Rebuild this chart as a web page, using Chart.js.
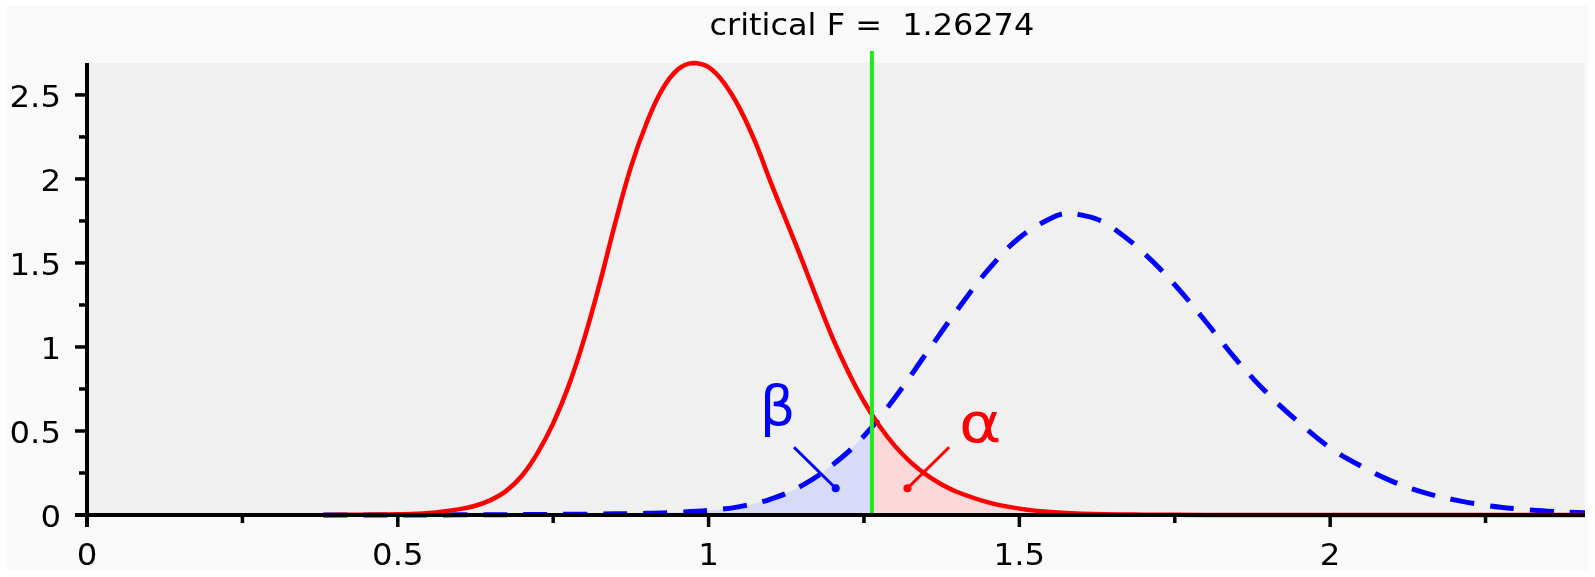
<!DOCTYPE html>
<html><head><meta charset="utf-8">
<script src="https://cdn.jsdelivr.net/npm/chart.js@4.4.1/dist/chart.umd.min.js"></script>
<style>html,body{margin:0;padding:0;background:#fff;overflow:hidden}canvas{display:block}</style>
</head><body>
<canvas id="c" width="1595" height="577"></canvas>
<script>
// ---- data ----
const criticalF = 1.26274;
const titleText = 'critical F =  1.26274';
const xMajorTicks = [0, 0.5, 1, 1.5, 2];
const xMinorTicks = [0.25, 0.75, 1.25, 1.75, 2.25];
const yMajorTicks = [0, 0.5, 1, 1.5, 2, 2.5];
const yMinorTicks = [0.25, 0.75, 1.25, 1.75, 2.25];
const xTickLabels = ['0', '0.5', '1', '1.5', '2'];
const yTickLabels = ['0', '0.5', '1', '1.5', '2', '2.5'];

// null distribution (red, solid)
const nullX = [0.38, 0.45, 0.50, 0.55, 0.60, 0.625, 0.65, 0.675, 0.70, 0.725, 0.75, 0.775, 0.80, 0.825, 0.85, 0.875, 0.90, 0.925, 0.95, 0.975, 1.00, 1.025, 1.05, 1.075, 1.10, 1.125, 1.15, 1.175, 1.20, 1.225, 1.25, 1.275, 1.30, 1.325, 1.35, 1.375, 1.40, 1.45, 1.50, 1.55, 1.60, 1.70, 1.80, 2.00, 2.41];
const nullY = [0, 0.002, 0.004, 0.012, 0.035, 0.055, 0.09, 0.145, 0.235, 0.37, 0.545, 0.77, 1.05, 1.38, 1.74, 2.07, 2.33, 2.53, 2.65, 2.69, 2.665, 2.57, 2.42, 2.22, 1.98, 1.75, 1.52, 1.28, 1.05, 0.85, 0.675, 0.53, 0.41, 0.315, 0.24, 0.182, 0.137, 0.075, 0.038, 0.018, 0.008, 0.002, 0.0005, 0, 0];

// alternative distribution (blue, dashed)
const altX = [0.38, 0.60, 0.80, 0.90, 0.95, 1.00, 1.05, 1.10, 1.15, 1.20, 1.25, 1.30, 1.35, 1.40, 1.45, 1.50, 1.55, 1.575, 1.60, 1.625, 1.65, 1.70, 1.75, 1.80, 1.85, 1.90, 1.95, 2.00, 2.05, 2.10, 2.15, 2.20, 2.25, 2.30, 2.35, 2.41];
const altY = [0, 0.001, 0.005, 0.01, 0.016, 0.027, 0.05, 0.095, 0.175, 0.30, 0.47, 0.70, 0.96, 1.22, 1.46, 1.65, 1.765, 1.795, 1.785, 1.76, 1.71, 1.56, 1.37, 1.15, 0.92, 0.72, 0.55, 0.40, 0.29, 0.20, 0.135, 0.09, 0.058, 0.037, 0.023, 0.013];

const xRange = [0, 2.41];
const yRange = [0, 2.69];

// ---- styling ----
const FONT = "'DejaVu Sans', 'Liberation Sans', sans-serif";
const RED = '#ff0000', BLUE = '#0000ff', GREEN = 'rgb(30,235,30)';
const RED_FILL = 'rgb(251,217,219)', BLUE_FILL = 'rgb(216,219,248)';

function sideFill(color, side) {
  return (ctx) => {
    const chart = ctx.chart, ca = chart.chartArea;
    if (!ca) return color;
    const px = chart.scales.x.getPixelForValue(criticalF);
    const g = chart.ctx.createLinearGradient(ca.left, 0, ca.right, 0);
    const t = Math.min(1, Math.max(0, (px - ca.left) / (ca.right - ca.left)));
    const clear = 'rgba(255,255,255,0)';
    if (side === 'left') {
      g.addColorStop(0, color); g.addColorStop(t, color);
      g.addColorStop(t, clear); g.addColorStop(1, clear);
    } else {
      g.addColorStop(0, clear); g.addColorStop(t, clear);
      g.addColorStop(t, color); g.addColorStop(1, color);
    }
    return g;
  };
}

function stretchedText(c, text, x, y, align, stretch) {
  c.save();
  c.translate(x, y);
  c.scale(stretch, 1);
  c.textAlign = align;
  c.fillText(text, 0, 0);
  c.restore();
}

const decorPlugin = {
  id: 'decor',
  beforeDraw(chart) {
    const c = chart.ctx, ca = chart.chartArea;
    c.save();
    c.fillStyle = '#ffffff'; c.fillRect(0, 0, chart.width, chart.height);
    c.fillStyle = '#fafafa'; c.fillRect(6, 5, chart.width - 13, chart.height - 12);
    c.fillStyle = '#f0f0f0'; c.fillRect(ca.left, ca.top, ca.right - ca.left, ca.bottom - ca.top);
    c.restore();
  },
  afterDatasetsDraw(chart, args, opts) {
    const c = chart.ctx, ca = chart.chartArea, xs = chart.scales.x, ys = chart.scales.y;
    c.save();
    // critical line
    const cx = xs.getPixelForValue(criticalF);
    c.strokeStyle = GREEN; c.lineWidth = 4;
    c.beginPath(); c.moveTo(cx, ca.top - 12); c.lineTo(cx, ca.bottom); c.stroke();

    // pointers and greek labels
    for (const a of opts.annotations) {
      const p1x = xs.getPixelForValue(a.from[0]), p1y = ys.getPixelForValue(a.from[1]);
      const p2x = xs.getPixelForValue(a.to[0]), p2y = ys.getPixelForValue(a.to[1]);
      c.strokeStyle = a.color; c.fillStyle = a.color; c.lineWidth = 3;
      c.beginPath(); c.moveTo(p1x, p1y); c.lineTo(p2x, p2y); c.stroke();
      c.beginPath(); c.arc(p2x, p2y, 4, 0, Math.PI * 2); c.fill();
      c.font = '56px ' + FONT; c.textBaseline = 'alphabetic';
      stretchedText(c, a.text, xs.getPixelForValue(a.at[0]), ys.getPixelForValue(a.at[1]), 'center', a.stretch);
    }

    // axes
    c.strokeStyle = '#000'; c.lineWidth = 4; c.lineCap = 'butt';
    c.beginPath(); c.moveTo(ca.left, ca.top); c.lineTo(ca.left, ca.bottom + 12); c.stroke();
    c.beginPath(); c.moveTo(ca.left - 12, ca.bottom); c.lineTo(ca.right, ca.bottom); c.stroke();
    c.lineWidth = 3.5;
    for (const v of xMajorTicks) { const p = xs.getPixelForValue(v); c.beginPath(); c.moveTo(p, ca.bottom); c.lineTo(p, ca.bottom + 12); c.stroke(); }
    for (const v of xMinorTicks) { const p = xs.getPixelForValue(v); c.beginPath(); c.moveTo(p, ca.bottom); c.lineTo(p, ca.bottom + 8); c.stroke(); }
    for (const v of yMajorTicks) { const p = ys.getPixelForValue(v); c.beginPath(); c.moveTo(ca.left - 12, p); c.lineTo(ca.left, p); c.stroke(); }
    for (const v of yMinorTicks) { const p = ys.getPixelForValue(v); c.beginPath(); c.moveTo(ca.left - 8, p); c.lineTo(ca.left, p); c.stroke(); }

    // tick labels
    c.fillStyle = '#000'; c.font = '30px ' + FONT; c.textBaseline = 'alphabetic';
    xMajorTicks.forEach((v, i) => stretchedText(c, xTickLabels[i], xs.getPixelForValue(v), ca.bottom + 50, 'center', 1.08));
    yMajorTicks.forEach((v, i) => stretchedText(c, yTickLabels[i], ca.left - 26, ys.getPixelForValue(v) + 12, 'right', 1.08));

    // title centred on the critical line
    c.font = '31px ' + FONT;
    stretchedText(c, titleText, cx, 35, 'center', 1.03);
    c.restore();
  }
};

new Chart(document.getElementById('c'), {
  type: 'line',
  data: {
    datasets: [
      {
        label: 'H0',
        data: nullX.map((x, i) => ({ x, y: nullY[i] })),
        borderColor: RED, borderWidth: 4.5,
        backgroundColor: sideFill(RED_FILL, 'right'),
        fill: 'origin', pointRadius: 0, tension: 0.4, clip: 8
      },
      {
        label: 'H1',
        data: altX.map((x, i) => ({ x, y: altY[i] })),
        borderColor: BLUE, borderWidth: 5, borderDash: [24, 16], borderCapStyle: 'butt',
        backgroundColor: sideFill(BLUE_FILL, 'left'),
        fill: 'origin', pointRadius: 0, tension: 0.4, clip: 8
      }
    ]
  },
  options: {
    responsive: false, animation: false, devicePixelRatio: 1,
    layout: { padding: { left: 0, top: 63, right: 10, bottom: 0 } },
    plugins: {
      legend: { display: false }, tooltip: { enabled: false }, title: { display: false },
      filler: { drawTime: 'beforeDatasetsDraw' },
      decor: {
        annotations: [
          { text: 'β', color: BLUE, stretch: 1.0, at: [1.111, 0.536], from: [1.1374, 0.403], to: [1.2045, 0.159] },
          { text: 'α', color: RED, stretch: 1.15, at: [1.4372, 0.4345], from: [1.387, 0.403], to: [1.320, 0.159] }
        ]
      }
    },
    scales: {
      x: {
        type: 'linear', min: xRange[0], max: xRange[1],
        afterBuildTicks: s => { s.ticks = xMajorTicks.map(v => ({ value: v })); },
        afterFit: s => { s.height = 62; },
        ticks: { display: false },
        grid: { display: false, drawTicks: false }, border: { display: false }
      },
      y: {
        min: yRange[0], max: yRange[1],
        afterBuildTicks: s => { s.ticks = yMajorTicks.map(v => ({ value: v })); },
        afterFit: s => { s.width = 87; },
        ticks: { display: false },
        grid: { display: false, drawTicks: false }, border: { display: false }
      }
    }
  },
  plugins: [decorPlugin]
});
</script>
</body></html>
